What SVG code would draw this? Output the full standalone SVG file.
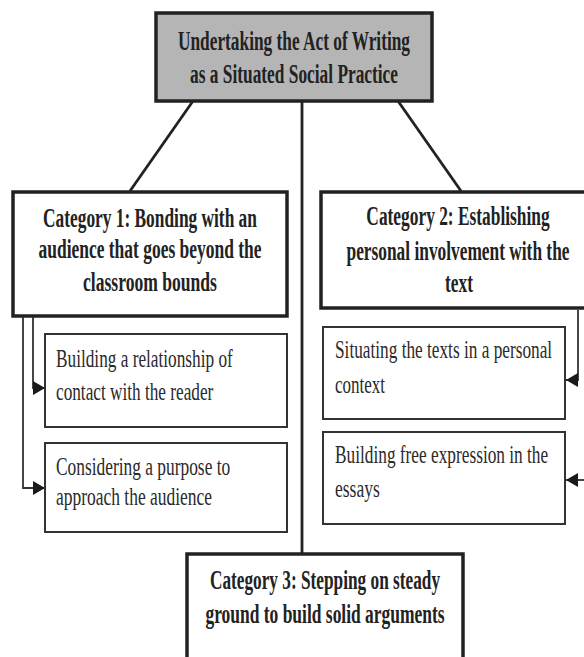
<svg xmlns="http://www.w3.org/2000/svg" width="584" height="657" viewBox="0 0 584 657">
<style>
.bt{font-family:"Liberation Serif","Times New Roman",serif;font-weight:bold;font-size:27px;fill:#222}
.rt{font-family:"Liberation Serif","Times New Roman",serif;font-size:26px;fill:#2a2a2a}
.c{text-anchor:middle}
.big{fill:#fff;stroke:#222;stroke-width:3.5}
.sub{fill:#fff;stroke:#333;stroke-width:2}
.ln{fill:none;stroke:#222;stroke-width:2.8}
.thin{fill:none;stroke:#333;stroke-width:1.8}
</style>
<defs>
<marker id="ah" viewBox="0 0 12 14" refX="12" refY="7" markerWidth="12" markerHeight="14" markerUnits="userSpaceOnUse" orient="auto">
<path d="M0,0 L12,7 L0,14 Z" fill="#1a1a1a"/>
</marker>
</defs>
<rect width="584" height="657" fill="#fff"/>
<g id="connectors">
<line class="ln" x1="193" y1="101" x2="130" y2="191"/>
<line class="ln" x1="398" y1="101" x2="461" y2="191"/>
<line class="ln" x1="302" y1="101" x2="302" y2="554"/>
<polyline class="thin" points="33,316 33,388 45,388" marker-end="url(#ah)"/>
<polyline class="thin" points="23,316 23,488 45,488" marker-end="url(#ah)"/>
<polyline class="thin" points="578,310 578,380 566,380" marker-end="url(#ah)"/>
<polyline class="thin" points="590,480 566,480" marker-end="url(#ah)"/>
</g>
<g id="root">
<rect x="156" y="13" width="276" height="88" fill="#b5b5b5" stroke="#222" stroke-width="3.5"/>
<text class="bt c" transform="translate(294,50) scale(0.65,1)" textLength="357" lengthAdjust="spacingAndGlyphs">Undertaking the Act of Writing</text>
<text class="bt c" transform="translate(294,83) scale(0.65,1)" textLength="320" lengthAdjust="spacingAndGlyphs">as a Situated Social Practice</text>
</g>
<g id="cat1">
<rect class="big" x="13" y="192" width="274" height="124"/>
<text class="bt c" transform="translate(150,227) scale(0.65,1)" textLength="329" lengthAdjust="spacingAndGlyphs">Category 1: Bonding with an</text>
<text class="bt c" transform="translate(150,258) scale(0.65,1)" textLength="343" lengthAdjust="spacingAndGlyphs">audience that goes beyond the</text>
<text class="bt c" transform="translate(150,291) scale(0.65,1)" textLength="206" lengthAdjust="spacingAndGlyphs">classroom bounds</text>
</g>
<g id="cat2">
<rect class="big" x="321" y="192" width="274" height="116"/>
<text class="bt c" transform="translate(458,225) scale(0.65,1)" textLength="282" lengthAdjust="spacingAndGlyphs">Category 2: Establishing</text>
<text class="bt c" transform="translate(458,260) scale(0.65,1)" textLength="343" lengthAdjust="spacingAndGlyphs">personal involvement with the</text>
<text class="bt c" transform="translate(459,292) scale(0.65,1)" textLength="43" lengthAdjust="spacingAndGlyphs">text</text>
</g>
<g id="cat3">
<rect class="big" x="187" y="554" width="276" height="120"/>
<text class="bt c" transform="translate(325,589) scale(0.65,1)" textLength="354" lengthAdjust="spacingAndGlyphs">Category 3: Stepping on steady</text>
<text class="bt c" transform="translate(325,623) scale(0.65,1)" textLength="368" lengthAdjust="spacingAndGlyphs">ground to build solid arguments</text>
</g>
<g id="sub1a">
<rect class="sub" x="45" y="334" width="242" height="93"/>
<text class="rt" transform="translate(56,367) scale(0.65,1)" textLength="272" lengthAdjust="spacingAndGlyphs">Building a relationship of</text>
<text class="rt" transform="translate(56,400) scale(0.65,1)" textLength="242" lengthAdjust="spacingAndGlyphs">contact with the reader</text>
</g>
<g id="sub1b">
<rect class="sub" x="45" y="443" width="242" height="89"/>
<text class="rt" transform="translate(56,475) scale(0.65,1)" textLength="268" lengthAdjust="spacingAndGlyphs">Considering a purpose to</text>
<text class="rt" transform="translate(56,505) scale(0.65,1)" textLength="240" lengthAdjust="spacingAndGlyphs">approach the audience</text>
</g>
<g id="sub2a">
<rect class="sub" x="323" y="327" width="242" height="92"/>
<text class="rt" transform="translate(335,358) scale(0.65,1)" textLength="334" lengthAdjust="spacingAndGlyphs">Situating the texts in a personal</text>
<text class="rt" transform="translate(335,393) scale(0.65,1)" textLength="77" lengthAdjust="spacingAndGlyphs">context</text>
</g>
<g id="sub2b">
<rect class="sub" x="323" y="432" width="242" height="92"/>
<text class="rt" transform="translate(335,463) scale(0.65,1)" textLength="328" lengthAdjust="spacingAndGlyphs">Building free expression in the</text>
<text class="rt" transform="translate(335,497) scale(0.65,1)" textLength="69" lengthAdjust="spacingAndGlyphs">essays</text>
</g>
</svg>
